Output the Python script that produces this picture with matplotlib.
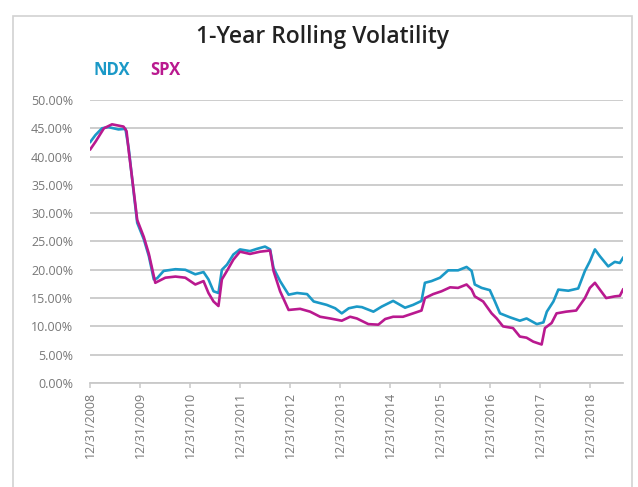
import pandas as pd
import matplotlib.pyplot as plt
import matplotlib.dates as mdates
from matplotlib.patches import Rectangle
from matplotlib.ticker import FuncFormatter

# NDX 1-year rolling volatility (%)
ndx_dates = ["2009-01-03", "2009-02-09", "2009-03-29", "2009-05-15", "2009-07-27",
             "2009-09-16", "2009-10-10", "2009-11-15", "2009-12-11", "2010-01-28",
             "2010-03-06", "2010-04-11", "2010-05-05", "2010-06-22", "2010-09-16",
             "2010-11-27", "2011-02-08", "2011-04-09", "2011-05-15", "2011-06-21",
             "2011-07-27", "2011-08-21", "2011-09-27", "2011-11-13", "2011-12-31",
             "2012-03-13", "2012-05-03", "2012-07-01", "2012-08-07", "2012-09-01",
             "2012-10-19", "2012-12-20", "2013-02-20", "2013-05-04", "2013-06-21",
             "2013-09-24", "2013-11-25", "2014-01-12", "2014-03-04", "2014-05-02",
             "2014-06-08", "2014-08-31", "2014-10-31", "2015-01-22", "2015-04-19",
             "2015-06-17", "2015-08-17", "2015-09-11", "2015-10-29", "2015-12-30",
             "2016-02-28", "2016-05-10", "2016-07-11", "2016-08-17", "2016-09-09",
             "2016-10-29", "2016-12-28", "2017-02-03", "2017-03-12", "2017-05-24",
             "2017-08-04", "2017-09-22", "2017-12-06", "2018-01-23", "2018-02-17",
             "2018-04-06", "2018-05-12", "2018-07-24", "2018-10-04", "2018-11-22",
             "2018-12-28", "2019-02-03", "2019-03-11", "2019-05-11", "2019-06-28",
             "2019-08-04", "2019-08-27"]
ndx_vol = [42.6, 43.8, 45.0, 45.2, 44.8,
           44.9, 41.4, 33.7, 28.3, 25.4,
           22.4, 18.3, 18.5, 19.8, 20.1,
           20.0, 19.2, 19.6, 18.3, 16.2,
           15.9, 20.0, 20.9, 22.7, 23.6,
           23.3, 23.7, 24.1, 23.6, 20.3,
           18.0, 15.6, 15.9, 15.7, 14.4,
           13.8, 13.2, 12.3, 13.2, 13.5,
           13.4, 12.6, 13.5, 14.5, 13.3,
           13.8, 14.5, 17.7, 18.0, 18.6,
           19.9, 19.9, 20.5, 19.8, 17.4,
           16.8, 16.4, 14.4, 12.3, 11.6,
           11.0, 11.4, 10.4, 10.7, 12.6,
           14.4, 16.5, 16.3, 16.7, 19.8,
           21.5, 23.6, 22.4, 20.6, 21.4,
           21.2, 22.1]

# SPX 1-year rolling volatility (%)
spx_dates = ["2009-01-03", "2009-02-09", "2009-04-12", "2009-06-10", "2009-09-02",
             "2009-09-24", "2009-10-10", "2009-11-15", "2009-12-11", "2010-01-28",
             "2010-03-06", "2010-04-22", "2010-07-04", "2010-09-16", "2010-11-27",
             "2011-02-08", "2011-04-09", "2011-05-15", "2011-06-21", "2011-07-27",
             "2011-08-21", "2011-09-27", "2011-11-13", "2011-12-31", "2012-03-13",
             "2012-05-26", "2012-08-07", "2012-09-01", "2012-10-19", "2012-12-20",
             "2013-03-14", "2013-05-26", "2013-08-07", "2013-10-19", "2014-01-12",
             "2014-03-14", "2014-05-02", "2014-07-25", "2014-10-06", "2014-11-25",
             "2015-01-22", "2015-04-04", "2015-06-17", "2015-08-17", "2015-09-11",
             "2015-11-10", "2016-01-10", "2016-03-13", "2016-05-10", "2016-07-11",
             "2016-08-17", "2016-09-09", "2016-11-09", "2017-01-10", "2017-02-16",
             "2017-04-03", "2017-06-15", "2017-08-04", "2017-09-22", "2017-11-10",
             "2018-01-10", "2018-02-03", "2018-03-24", "2018-04-29", "2018-07-08",
             "2018-09-19", "2018-11-22", "2018-12-28", "2019-02-03", "2019-03-11",
             "2019-04-26", "2019-06-28", "2019-08-04", "2019-08-27"]
spx_vol = [41.3, 42.6, 45.0, 45.7, 45.3,
           44.5, 41.0, 34.0, 28.8, 25.8,
           22.8, 17.7, 18.6, 18.8, 18.6,
           17.4, 18.0, 15.9, 14.4, 13.6,
           18.3, 19.8, 21.8, 23.2, 22.8,
           23.2, 23.4, 19.8, 16.2, 12.9,
           13.1, 12.6, 11.7, 11.4, 11.0,
           11.7, 11.4, 10.4, 10.3, 11.3,
           11.7, 11.7, 12.3, 12.8, 15.0,
           15.7, 16.2, 16.9, 16.8, 17.4,
           16.5, 15.3, 14.4, 12.3, 11.4,
           10.0, 9.7, 8.2, 8.0, 7.3,
           6.8, 9.7, 10.6, 12.3, 12.6,
           12.8, 15.0, 16.8, 17.7, 16.5,
           15.0, 15.3, 15.4, 16.5]

tick_years = list(range(2008, 2019))

ndx_color = "#1b99c7"
spx_color = "#b9198f"
grid_color = "#c9c9c9"
label_color = "#777777"

plt.rcParams["font.family"] = ["Open Sans", "DejaVu Sans"]

fig = plt.figure(figsize=(6.38, 4.87), dpi=100)
ax = fig.add_axes([0.141, 0.2136, 0.8355, 0.5811])

ax.plot(pd.to_datetime(ndx_dates), [v / 100 for v in ndx_vol], color=ndx_color, lw=1.9)
ax.plot(pd.to_datetime(spx_dates), [v / 100 for v in spx_vol], color=spx_color, lw=1.9)

ax.set_ylim(0, 0.5)
ax.set_yticks([i * 0.05 for i in range(11)])
ax.yaxis.set_major_formatter(FuncFormatter(lambda v, p: f"{v * 100:.2f}%"))
ax.set_xlim(pd.Timestamp("2008-12-31"), pd.Timestamp("2019-08-27"))
ax.set_xticks([pd.Timestamp(f"{y}-12-31") for y in tick_years])
ax.xaxis.set_major_formatter(mdates.DateFormatter("%m/%d/%Y"))

ax.grid(axis="y", color=grid_color, lw=1.3)
ax.set_axisbelow(True)
for s in ["top", "right", "left"]:
    ax.spines[s].set_visible(False)
ax.spines["bottom"].set_color(grid_color)
ax.spines["bottom"].set_linewidth(1.3)

ax.tick_params(axis="y", length=0, pad=12, labelsize=9, labelcolor=label_color)
ax.tick_params(axis="x", length=3.5, width=1.1, color=grid_color, pad=3,
               labelsize=9, labelcolor=label_color, labelrotation=90)

# Title and colored legend text
fig.text(0.5055, 0.924, "1-Year Rolling Volatility", ha="center", va="center",
         fontsize=16.5, fontweight="semibold", color="#222222")
fig.text(93 / 638, 1 - 70 / 487, "NDX", ha="left", va="center",
         fontsize=12, fontweight="bold", color=ndx_color)
fig.text(150 / 638, 1 - 70 / 487, "SPX", ha="left", va="center",
         fontsize=12, fontweight="bold", color=spx_color)

# Light frame around the chart
fig.patches.append(Rectangle((13 / 638, -0.1), (632 - 13) / 638, 1.1 - 16 / 487,
                             transform=fig.transFigure, fill=False,
                             edgecolor="#d2d2d2", lw=1.2))

fig.savefig("out.png", dpi=100)
